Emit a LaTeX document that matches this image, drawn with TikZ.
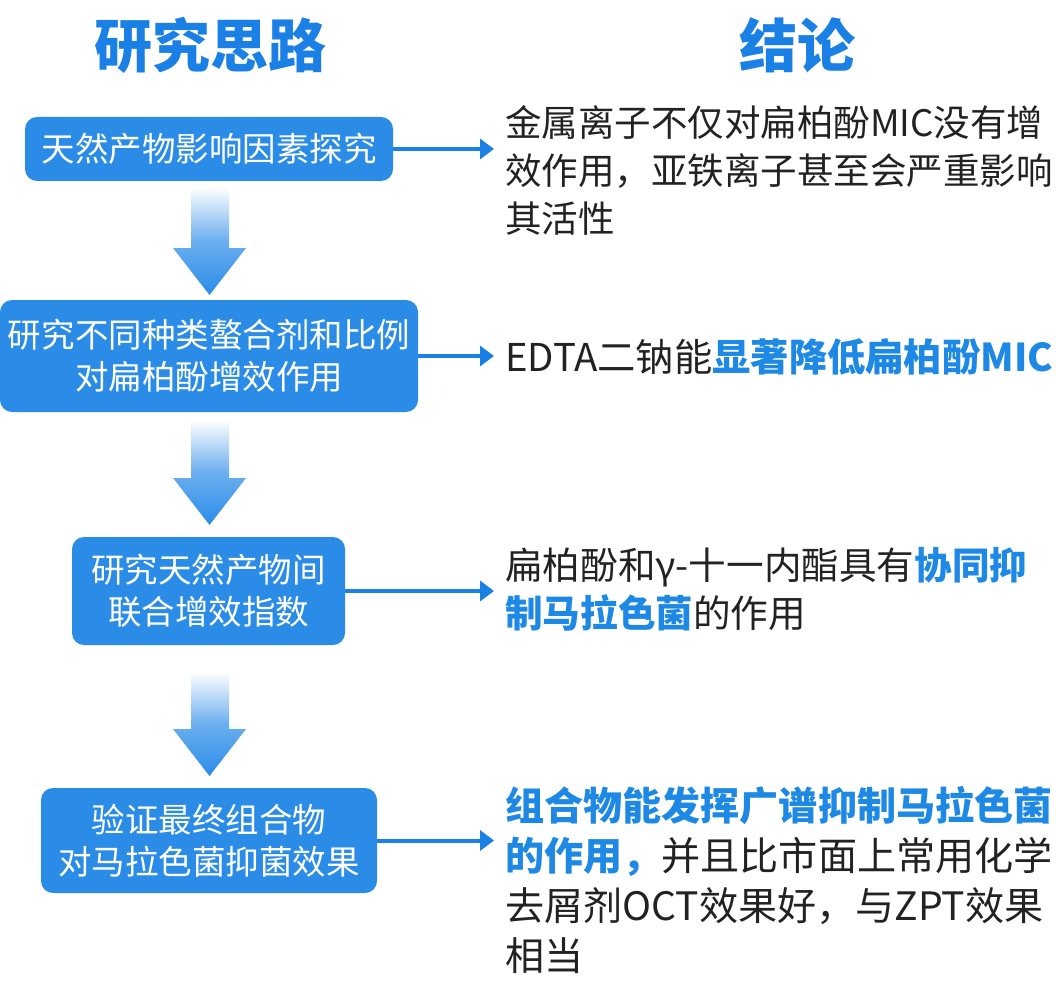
\documentclass[tikz,border=0pt]{standalone}
\usepackage{fontspec}
\setmainfont{Noto Sans CJK SC}
\usetikzlibrary{arrows.meta}
\definecolor{hblue}{HTML}{1A80E6}
\definecolor{boxblue}{HTML}{2B8CE8}
\definecolor{tblue}{HTML}{1E88E5}
\definecolor{txt}{HTML}{222222}
\definecolor{lineblue}{HTML}{1A80E6}
\tikzset{
  box/.style={fill=boxblue, rounded corners=12pt, text=white, align=center, inner sep=0pt,
    font=\fontsize{33.5}{42}\selectfont},
  header/.style={text=hblue, font=\fontsize{58}{60}\selectfont\bfseries, inner sep=0pt},
  concl/.style={text=txt, anchor=west, align=left, inner sep=0pt, font=\fontsize{36.5}{48}\selectfont},
  conn/.style={draw=lineblue, line width=4pt, -{Triangle[length=14pt,width=20pt]}}
}
\newcommand{\hlt}[1]{{\color{tblue}\bfseries #1}}
\newcommand{\gradarrow}[2]{%
  \shade[top color=white, bottom color=boxblue, middle color=boxblue!70]
    (191,#1) -- (229,#1) -- (229,#2-47) -- (246,#2-47) -- (209.5,#2) -- (173,#2-47) -- (191,#2-47) -- cycle;}
\begin{document}
\begin{tikzpicture}[x=1pt,y=-1pt]
\useasboundingbox (0,0) rectangle (1056,992);
\node[header] (h1) at (210,45) {研究思路};
\node[header] (h2) at (797,45) {结论};

\node[box, minimum width=368pt, minimum height=64pt] (b1) at (209,149) {天然产物影响因素探究};
\node[box, minimum width=418pt, minimum height=112pt] (b2) at (209,356) {研究不同种类螯合剂和比例\\对扁柏酚增效作用};
\node[box, minimum width=273pt, minimum height=108pt] (b3) at (208.5,591) {研究天然产物间\\联合增效指数};
\node[box, minimum width=336pt, minimum height=105pt] (b4) at (209,840.5) {验证最终组合物\\对马拉色菌抑菌效果};

\gradarrow{187}{295}
\gradarrow{420}{525}
\gradarrow{672}{776}

\coordinate (c1) at (494,149);
\coordinate (c2) at (494,356);
\coordinate (c3) at (494,591);
\coordinate (c4) at (494,840.5);
\draw[conn] (b1.east) -- (c1);
\draw[conn] (b2.east) -- (c2);
\draw[conn] (b3.east) -- (c3);
\draw[conn] (b4.east) -- (c4);

\node[concl] (t1) at (505,170) {金属离子不仅对扁柏酚MIC没有增\\效作用，亚铁离子甚至会严重影响\\其活性};
\node[concl, font=\fontsize{38.3}{48}\selectfont] (t2) at (505,357) {EDTA二钠能\hlt{显著降低扁柏酚MIC}};
\node[concl, font=\fontsize{37.6}{48}\selectfont] (t3) at (505,589) {扁柏酚和γ-十一内酯具有\hlt{协同抑}\\\hlt{制马拉色菌}的作用};
\node[concl, font=\fontsize{39.1}{50}\selectfont] (t4) at (505,880) {\hlt{组合物能发挥广谱抑制马拉色菌}\\\hlt{的作用，}并且比市面上常用化学\\去屑剂OCT效果好，与ZPT效果\\相当};
\end{tikzpicture}
\end{document}
